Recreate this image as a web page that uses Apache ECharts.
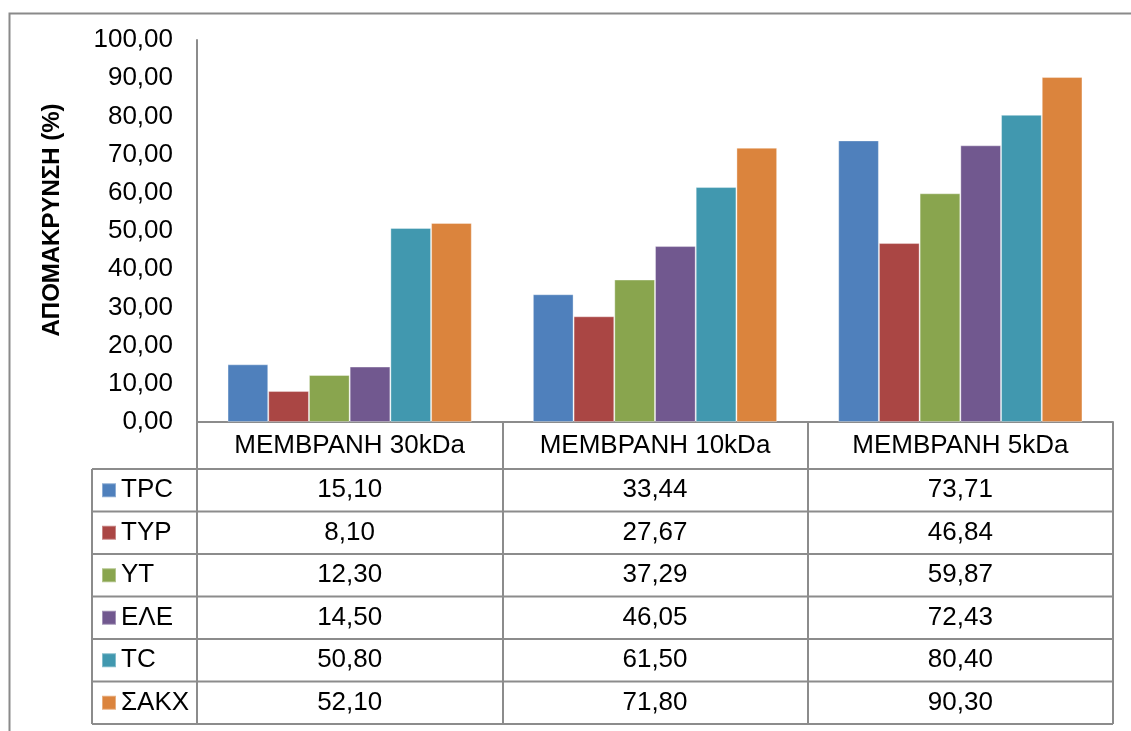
<!DOCTYPE html>
<html>
<head>
<meta charset="utf-8">
<script src="https://cdn.jsdelivr.net/npm/echarts@6/dist/echarts.min.js"></script>
<style>
  html, body { margin: 0; padding: 0; background: #fff; }
  #main { width: 1131px; height: 731px; }
</style>
</head>
<body>
<div id="main"></div>
<script>
var categories = ['ΜΕΜΒΡΑΝΗ 30kDa', 'ΜΕΜΒΡΑΝΗ 10kDa', 'ΜΕΜΒΡΑΝΗ 5kDa'];
var seriesNames = ['TPC', 'TYP', 'YT', 'ΕΛΕ', 'TC', 'ΣΑΚΧ'];
var tpc  = [15.10, 33.44, 73.71];
var typ  = [8.10, 27.67, 46.84];
var yt   = [12.30, 37.29, 59.87];
var ele  = [14.50, 46.05, 72.43];
var tc   = [50.80, 61.50, 80.40];
var sakx = [52.10, 71.80, 90.30];
var seriesData = [tpc, typ, yt, ele, tc, sakx];
var colors = ['#4f80bc', '#aa4644', '#89a54e', '#71588f', '#4198af', '#db843d'];

// layout
var gLeft = 197, gRight = 18, gTop = 40, gBottom = 309;
var W = 1131, H = 731;
var axisY = H - gBottom;          // 422
var headH = 47, rowH = 42.5;
var tableLeft = 92, tableRight = W - gRight;
var lineColor = '#8c8c8c';
var fs = 26;

function fmt(v) { return v.toFixed(2).replace('.', ','); }

var chart = echarts.init(document.getElementById('main'));

var graphics = [];
// outer frame
graphics.push({
  type: 'rect', left: 7, top: 11, silent: true,
  shape: { width: 1200, height: 800 },
  style: { fill: 'none', stroke: '#8a8a8a', lineWidth: 2 }
});
// table horizontal lines
for (var k = 0; k <= seriesNames.length; k++) {
  var y = axisY + headH + k * rowH;
  graphics.push({
    type: 'line', silent: true,
    shape: { x1: tableLeft, y1: y, x2: tableRight, y2: y },
    style: { stroke: lineColor, lineWidth: 2 }
  });
}
// table left column edge
graphics.push({
  type: 'line', silent: true,
  shape: { x1: tableLeft, y1: axisY + headH, x2: tableLeft, y2: axisY + headH + seriesNames.length * rowH },
  style: { stroke: lineColor, lineWidth: 2 }
});

var rich = {
  h: { fontSize: fs, lineHeight: headH, color: '#000', fontFamily: 'Liberation Sans' },
  v: { fontSize: fs, lineHeight: rowH, color: '#000', fontFamily: 'Liberation Sans' }
};

var option = {
  animation: false,
  color: colors,
  textStyle: { fontFamily: 'Liberation Sans' },
  grid: {
    left: gLeft, right: gRight, top: gTop, bottom: gBottom,
    containLabel: false, outerBoundsMode: 'none'
  },
  legend: {
    orient: 'vertical',
    left: 101,
    top: axisY + headH + (rowH - 26) / 2,
    padding: 0,
    itemWidth: 14,
    itemHeight: 14,
    itemGap: rowH - 26,
    icon: 'rect',
    selectedMode: false,
    textStyle: { fontSize: fs, lineHeight: 26, color: '#000' },
    data: seriesNames
  },
  xAxis: {
    type: 'category',
    data: categories,
    axisLine: { show: true, lineStyle: { color: lineColor, width: 2 } },
    axisTick: {
      show: true,
      length: headH + seriesNames.length * rowH,
      lineStyle: { color: lineColor, width: 2 }
    },
    axisLabel: {
      interval: 0,
      margin: 0,
      formatter: function (value, idx) {
        var s = '{h|' + value + '}';
        for (var i = 0; i < seriesData.length; i++) {
          s += '\n{v|' + fmt(seriesData[i][idx]) + '}';
        }
        return s;
      },
      rich: rich
    }
  },
  yAxis: {
    type: 'value',
    min: 0,
    max: 100,
    interval: 10,
    name: 'ΑΠΟΜΑΚΡΥΝΣΗ (%)',
    nameLocation: 'middle',
    nameGap: 133,
    nameTextStyle: {
      fontSize: 24, fontWeight: 'bold', color: '#000',
      padding: [0, 0, 0, 22]
    },
    splitLine: { show: false },
    axisTick: { show: false },
    axisLine: { show: true, lineStyle: { color: lineColor, width: 2 } },
    axisLabel: {
      fontSize: fs, color: '#000', margin: 24,
      formatter: function (v) { return fmt(v); }
    }
  },
  graphic: graphics,
  series: seriesNames.map(function (name, i) {
    return {
      name: name,
      type: 'bar',
      data: seriesData[i],
      barGap: '0%',
      barCategoryGap: '20%',
      itemStyle: { borderColor: 'rgba(255,255,255,0.35)', borderWidth: 1 }
    };
  })
};

chart.setOption(option);
window.addEventListener('resize', function () { chart.resize(); });
</script>
</body>
</html>
